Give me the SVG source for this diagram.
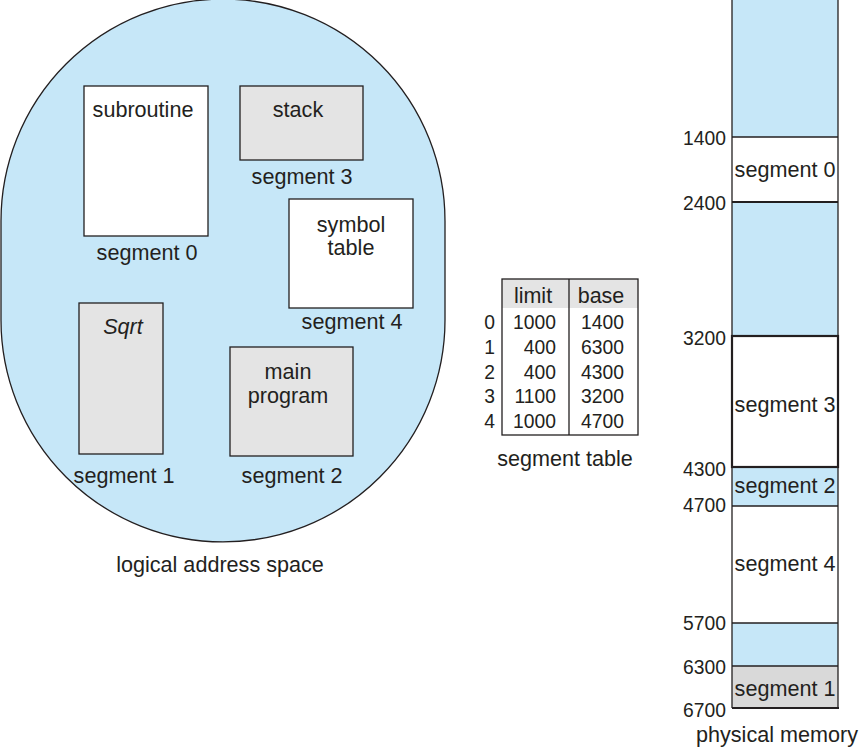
<svg xmlns="http://www.w3.org/2000/svg" width="864" height="749" viewBox="0 0 864 749">
<style>
text{font-family:"Liberation Sans",Arial,sans-serif;font-size:21.6px;fill:#231f20}
.c{text-anchor:middle}
.r{text-anchor:end}
.n{font-size:19.3px}
.h{font-size:21.5px}
.blue{fill:#c6e7f8}
.gray{fill:#e4e4e4}
.white{fill:#ffffff}
.box{stroke:#231f20;stroke-width:1.3}
.line{stroke:#231f20;stroke-width:1.3;fill:none}
.thick{stroke:#231f20;stroke-width:2.2;fill:none}
</style>
<rect width="864" height="749" fill="#ffffff"/>
<g id="logical-address-space">
<path d="M 1,221 A 222 222 0 0 1 445,221 L 445,320 A 222 222 0 0 1 1,320 Z" class="blue box"/>
<text x="220" y="572" class="c">logical address space</text>
</g>
<g id="seg0">
<rect x="84" y="86" width="124" height="150" class="white box"/>
<text x="143" y="117" class="c">subroutine</text>
<text x="147" y="260" class="c">segment 0</text>
</g>
<g id="seg3">
<rect x="240" y="86" width="123" height="74" class="gray box"/>
<text x="298" y="117" class="c">stack</text>
<text x="302" y="184" class="c">segment 3</text>
</g>
<g id="seg4">
<rect x="289" y="199" width="124" height="109" class="white box"/>
<text x="351" y="232" class="c">symbol</text>
<text x="351" y="255" class="c">table</text>
<text x="352" y="329" class="c">segment 4</text>
</g>
<g id="seg1">
<rect x="79" y="303" width="84" height="151" class="gray box"/>
<text x="123" y="334" class="c" font-style="italic" font-size="19.5">Sqrt</text>
<text x="124" y="483" class="c">segment 1</text>
</g>
<g id="seg2">
<rect x="230" y="347" width="123" height="109" class="gray box"/>
<text x="288" y="379" class="c">main</text>
<text x="288" y="403" class="c">program</text>
<text x="292" y="483" class="c">segment 2</text>
</g>
<g id="segment-table">
<rect x="502" y="279" width="136" height="29" class="gray"/>
<rect x="502" y="279" width="136" height="156" class="line"/>
<line x1="569" y1="279" x2="569" y2="435" class="line"/>
<text x="533" y="303" class="c h">limit</text>
<text x="601" y="303" class="c h">base</text>
<text x="495" y="329" class="r n">0</text>
<text x="495" y="353.75" class="r n">1</text>
<text x="495" y="378.5" class="r n">2</text>
<text x="495" y="403.25" class="r n">3</text>
<text x="495" y="428" class="r n">4</text>
<text x="556" y="329" class="r n">1000</text>
<text x="556" y="353.75" class="r n">400</text>
<text x="556" y="378.5" class="r n">400</text>
<text x="556" y="403.25" class="r n">1100</text>
<text x="556" y="428" class="r n">1000</text>
<text x="624" y="329" class="r n">1400</text>
<text x="624" y="353.75" class="r n">6300</text>
<text x="624" y="378.5" class="r n">4300</text>
<text x="624" y="403.25" class="r n">3200</text>
<text x="624" y="428" class="r n">4700</text>
<text x="565" y="466" class="c">segment table</text>
</g>
<g id="physical-memory">
<rect x="732" y="-2" width="106" height="139" class="blue"/>
<rect x="732" y="137" width="106" height="65" class="white"/>
<rect x="732" y="202" width="106" height="134" class="blue"/>
<rect x="732" y="336" width="106" height="131" class="white"/>
<rect x="732" y="467" width="106" height="39" class="blue"/>
<rect x="732" y="506" width="106" height="117" class="white"/>
<rect x="732" y="623" width="106" height="43" class="blue"/>
<rect x="732" y="666" width="106" height="42" fill="#d9d9d9"/>
<line x1="732" y1="-2" x2="732" y2="708" class="line"/>
<line x1="838" y1="-2" x2="838" y2="708" class="line"/>
<line x1="732" y1="137" x2="838" y2="137" class="line"/>
<line x1="732" y1="202" x2="838" y2="202" class="thick"/>
<rect x="732" y="336" width="106" height="131" class="thick"/>
<line x1="732" y1="506" x2="838" y2="506" class="line"/>
<line x1="732" y1="623" x2="838" y2="623" class="line"/>
<line x1="732" y1="666" x2="838" y2="666" class="line"/>
<line x1="732" y1="708" x2="839" y2="708" class="thick"/>
<text x="785" y="177" class="c">segment 0</text>
<text x="785" y="412" class="c">segment 3</text>
<text x="785" y="493" class="c">segment 2</text>
<text x="785" y="571" class="c">segment 4</text>
<text x="785" y="696" class="c">segment 1</text>
<text x="726" y="145" class="r n">1400</text>
<text x="726" y="210" class="r n">2400</text>
<text x="726" y="345" class="r n">3200</text>
<text x="726" y="476" class="r n">4300</text>
<text x="726" y="512" class="r n">4700</text>
<text x="726" y="630" class="r n">5700</text>
<text x="726" y="674" class="r n">6300</text>
<text x="726" y="717" class="r n">6700</text>
<text x="777" y="742" class="c">physical memory</text>
</g>
</svg>
